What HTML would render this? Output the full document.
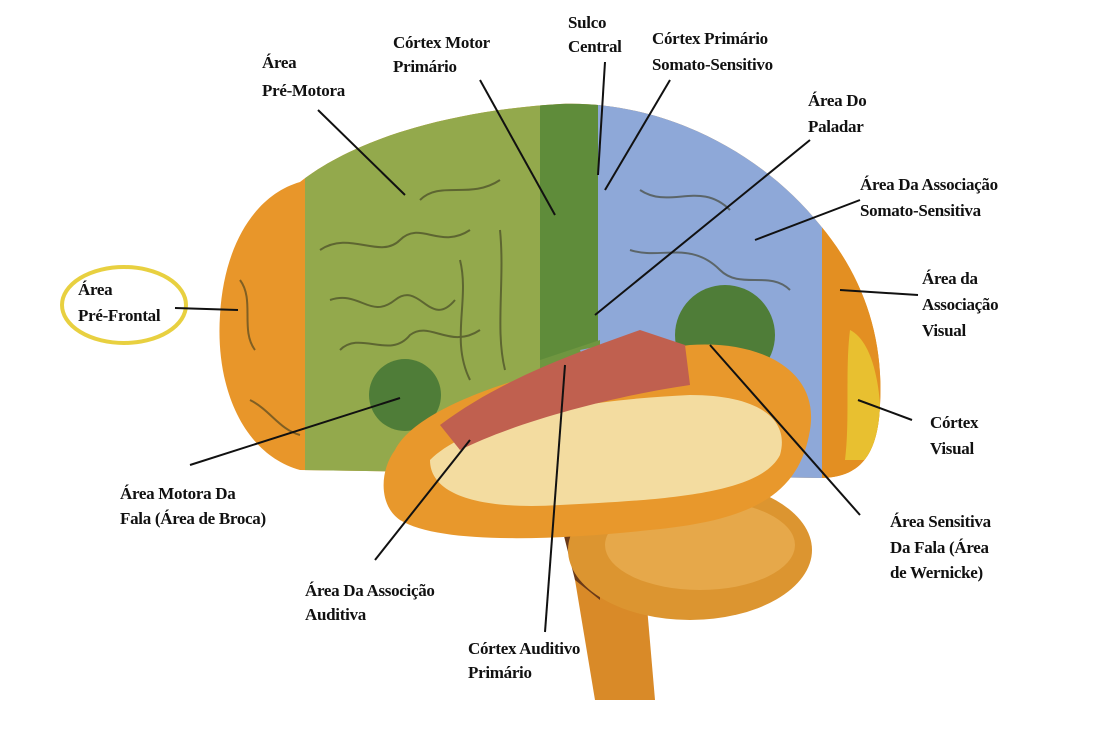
<!DOCTYPE html>
<html><head><meta charset="utf-8"><style>
html,body{margin:0;padding:0;background:#fff;}
svg text{font-family:"Liberation Serif",serif;font-size:17px;fill:#111;font-weight:bold;letter-spacing:-0.3px;}
</style></head><body>
<svg width="1100" height="732" viewBox="0 0 1100 732" xmlns="http://www.w3.org/2000/svg">
<defs>
<clipPath id="cb"><path d="M300,470 C245,455 215,390 220,315 C224,245 255,195 300,182 C360,135 460,110 560,104 C660,100 760,150 820,225 C862,275 884,335 880,405 C878,455 860,478 820,478 L300,470 Z"/></clipPath>
</defs>
<!-- brainstem -->
<path d="M565,520 L640,525 L655,700 L595,700 Z" fill="#d98a28"/>
<path d="M560,520 L600,520 L600,600 L575,580 Z" fill="#6b3a18"/>
<!-- cerebellum -->
<ellipse cx="690" cy="550" rx="122" ry="70" fill="#dc9530"/>
<ellipse cx="700" cy="545" rx="95" ry="45" fill="#e6a84a"/>
<!-- cerebrum -->
<g clip-path="url(#cb)">
<rect x="200" y="90" width="700" height="400" fill="#e8962a"/>
<rect x="305" y="90" width="240" height="400" fill="#93a94c"/>
<rect x="540" y="90" width="60" height="400" fill="#5f8c3a"/>
<rect x="598" y="90" width="225" height="400" fill="#8ea8d8"/>
<rect x="822" y="90" width="80" height="400" fill="#e38f22"/>
<path d="M850,330 C870,340 885,380 880,460 L845,460 C850,420 845,370 850,330 Z" fill="#e8c030"/>
<path d="M540,360 L600,340 L600,490 L540,490 Z" fill="#6f9640"/>
<path d="M580,350 L680,330 L700,380 L600,400 Z" fill="#8ea8d8"/>
<g stroke="#3a3a20" stroke-width="2" fill="none" opacity="0.6">
<path d="M320,250 C350,230 380,260 400,240 C420,220 440,250 470,230"/>
<path d="M330,300 C360,290 370,320 395,300 C420,280 430,330 455,300"/>
<path d="M340,350 C360,330 390,360 410,335 C430,320 450,350 480,330"/>
<path d="M420,200 C440,180 470,200 500,180"/>
<path d="M500,230 C505,280 495,330 505,370"/>
<path d="M460,260 C470,300 450,340 470,380"/>
<path d="M640,190 C670,210 700,180 730,210"/>
<path d="M630,250 C660,260 690,240 720,270 C740,290 770,270 790,290"/>
<path d="M240,280 C255,300 240,330 255,350"/>
<path d="M250,400 C270,410 280,430 300,435"/>
</g>
</g>
<circle cx="405" cy="395" r="36" fill="#4f7d38"/>
<circle cx="725" cy="335" r="50" fill="#4f7d38"/>
<!-- temporal lobe -->
<path d="M395,450 C420,400 560,360 690,345 C760,340 820,370 810,430 C800,490 760,520 650,530 C560,540 440,545 400,520 C378,505 380,470 395,450 Z" fill="#e8982c"/>
<path d="M430,460 C470,420 580,400 690,395 C760,395 790,420 780,455 C760,495 660,500 560,505 C480,510 430,495 430,460 Z" fill="#f3dca0"/>
<path d="M440,425 C500,380 570,355 640,330 L685,345 L690,385 C620,395 520,420 460,450 Z" fill="#c0604f"/>
<!-- yellow ellipse -->
<ellipse cx="124" cy="305" rx="62" ry="38" fill="none" stroke="#e8d040" stroke-width="4"/>
<!-- lines -->
<g stroke="#111" stroke-width="2" fill="none">
<line x1="318" y1="110" x2="405" y2="195"/>
<line x1="480" y1="80" x2="555" y2="215"/>
<line x1="605" y1="62" x2="598" y2="175"/>
<line x1="670" y1="80" x2="605" y2="190"/>
<line x1="810" y1="140" x2="595" y2="315"/>
<line x1="860" y1="200" x2="755" y2="240"/>
<line x1="918" y1="295" x2="840" y2="290"/>
<line x1="912" y1="420" x2="858" y2="400"/>
<line x1="860" y1="515" x2="710" y2="345"/>
<line x1="545" y1="632" x2="565" y2="365"/>
<line x1="375" y1="560" x2="470" y2="440"/>
<line x1="190" y1="465" x2="400" y2="398"/>
<line x1="175" y1="308" x2="238" y2="310"/>
</g>
<!-- labels -->
<text x="262" y="68">Área</text><text x="262" y="96">Pré-Motora</text>
<text x="393" y="48">Córtex Motor</text><text x="393" y="72">Primário</text>
<text x="568" y="28">Sulco</text><text x="568" y="52">Central</text>
<text x="652" y="44">Córtex Primário</text><text x="652" y="70">Somato-Sensitivo</text>
<text x="808" y="106">Área Do</text><text x="808" y="132">Paladar</text>
<text x="860" y="190">Área Da Associação</text><text x="860" y="216">Somato-Sensitiva</text>
<text x="922" y="284">Área da</text><text x="922" y="310">Associação</text><text x="922" y="336">Visual</text>
<text x="930" y="428">Córtex</text><text x="930" y="454">Visual</text>
<text x="890" y="527">Área Sensitiva</text><text x="890" y="553">Da Fala (Área</text><text x="890" y="578">de Wernicke)</text>
<text x="468" y="654">Córtex Auditivo</text><text x="468" y="678">Primário</text>
<text x="305" y="596">Área Da Associção</text><text x="305" y="620">Auditiva</text>
<text x="120" y="499">Área Motora Da</text><text x="120" y="524">Fala (Área de Broca)</text>
<text x="78" y="295">Área</text><text x="78" y="321">Pré-Frontal</text>
</svg>
</body></html>
